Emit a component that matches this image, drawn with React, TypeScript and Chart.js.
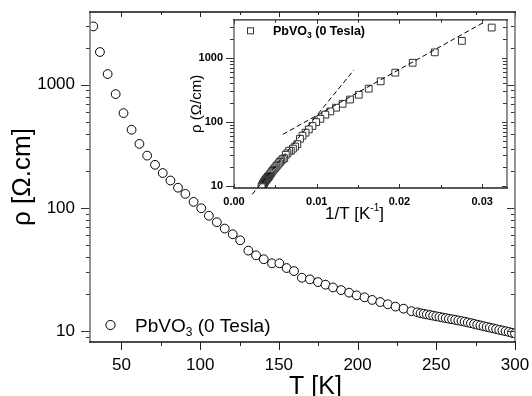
import React, { useEffect, useRef } from 'react';
import { Chart, registerables } from 'chart.js';
Chart.register(...registerables);

const FONT = '"Liberation Sans", Arial, Helvetica, sans-serif';

// ---- main panel data: resistivity (Ohm.cm) vs temperature (K)
const temperatureK = [
  32.1, 36.3, 41.2, 46.3, 51.3, 56.4, 61.4, 66.3, 71.3, 76.2,
  81.1, 85.9, 90.6, 95.8, 100.7, 105.5, 110.6, 115.6, 120.7, 125.4,
  130.6, 135.5, 140.4, 145.6, 150.3, 154.9, 159.6, 164.6, 169.7, 174.8,
  179.6, 184.4, 189.5, 194.6, 199.4, 204.4, 209.3, 214.4, 219.2, 224.1,
  229.2, 234.2, 238, 240, 242, 244, 246, 248, 250, 252,
  254, 256, 258, 260, 262, 264, 266, 268, 270, 272,
  274, 276, 278, 280, 282, 284, 286, 288, 290, 292,
  294, 296, 298, 300,
];
const resistivityOhmCm = [
  2980, 1845, 1222, 840, 589, 431, 331, 266, 224, 192,
  167, 146, 130, 112, 99.4, 86.4, 76.5, 68.0, 61.1, 54.6,
  45.0, 41.2, 38.3, 35.5, 35.5, 32.5, 30.7, 27.1, 26.3, 25.0,
  23.8, 22.6, 21.5, 20.5, 19.5, 18.8, 17.9, 17.2, 16.5, 15.8,
  15.2, 14.5, 14.2, 13.96, 13.8, 13.65, 13.49, 13.34, 13.18, 13.03,
  12.88, 12.74, 12.59, 12.47, 12.33, 12.19, 12.05, 11.91, 11.75, 11.59,
  11.43, 11.27, 11.12, 10.96, 10.81, 10.67, 10.52, 10.38, 10.23, 10.11,
  9.98, 9.84, 9.7, 9.57,
];

// ---- inset: linear fits drawn as dashed lines (1/T, rho)
const fitHighTInvT = [0.0022, 0.0145];
const fitHighTRho = [7.4, 650];
const fitLowTInvT = [0.0059, 0.03];
const fitLowTRho = [64, 3480];

// ---- tick values
const mainXMajor = [50, 100, 150, 200, 250, 300];
const mainXMinor = [75, 125, 175, 225, 275];
const mainYMajor = [10, 100, 1000];
const mainYMinor = [9, 20, 30, 40, 50, 60, 70, 80, 90, 200, 300, 400, 500, 600, 700, 800, 900, 2000, 3000];
const insetXMajor = [0, 0.01, 0.02, 0.03];
const insetXMinor = [0.005, 0.015, 0.025];
const insetXLabels = ['0.00', '0.01', '0.02', '0.03'];
const insetYMajor = [10, 100, 1000];
const insetYMinor = [20, 30, 40, 50, 60, 70, 80, 90, 200, 300, 400, 500, 600, 700, 800, 900, 2000, 3000];

type Part = { t: string; size: number; dy?: number; bold?: boolean };

function drawRich(ctx: CanvasRenderingContext2D, parts: Part[], x: number, y: number, align: 'left' | 'center', rot = 0) {
  ctx.save();
  ctx.translate(x, y);
  ctx.rotate(rot);
  ctx.fillStyle = '#000';
  ctx.textBaseline = 'alphabetic';
  ctx.textAlign = 'left';
  let w = 0;
  for (const p of parts) {
    ctx.font = `${p.bold ? 'bold ' : ''}${p.size}px ${FONT}`;
    w += ctx.measureText(p.t).width;
  }
  let cx = align === 'center' ? -w / 2 : 0;
  for (const p of parts) {
    ctx.font = `${p.bold ? 'bold ' : ''}${p.size}px ${FONT}`;
    ctx.fillText(p.t, cx, p.dy || 0);
    cx += ctx.measureText(p.t).width;
  }
  ctx.restore();
}

type Side = { color: string; tickColor: string; lw: number; major: number[]; minor: number[]; majorLen: number; minorLen: number; out: boolean };

function drawFrame(chart: any, sides: { left: Side; right: Side; top: Side; bottom: Side }) {
  const { ctx, chartArea: a, scales } = chart;
  const xs = scales.x;
  const ys = scales.y;
  ctx.save();
  const seg = (x0: number, y0: number, x1: number, y1: number) => {
    ctx.beginPath();
    ctx.moveTo(x0, y0);
    ctx.lineTo(x1, y1);
    ctx.stroke();
  };
  (['left', 'right', 'top', 'bottom'] as const).forEach((name) => {
    const s = sides[name];
    ctx.strokeStyle = s.tickColor;
    ctx.lineWidth = 1;
    const one = (v: number, len: number) => {
      if (name === 'left' || name === 'right') {
        const p = Math.round(ys.getPixelForValue(v)) + 0.5;
        const x0 = name === 'left' ? a.left : a.right;
        const dir = (name === 'left' ? -1 : 1) * (s.out ? 1 : -1);
        seg(x0, p, x0 + dir * len, p);
      } else {
        const p = Math.round(xs.getPixelForValue(v)) + 0.5;
        const y0 = name === 'top' ? a.top : a.bottom;
        const dir = (name === 'top' ? -1 : 1) * (s.out ? 1 : -1);
        seg(p, y0, p, y0 + dir * len);
      }
    };
    s.major.forEach((v) => one(v, s.majorLen));
    s.minor.forEach((v) => one(v, s.minorLen));
  });
  (['left', 'right', 'top', 'bottom'] as const).forEach((name) => {
    const s = sides[name];
    ctx.strokeStyle = s.color;
    ctx.lineWidth = s.lw;
    if (name === 'left') seg(a.left, a.top, a.left, a.bottom);
    if (name === 'right') seg(a.right, a.top, a.right, a.bottom);
    if (name === 'top') seg(a.left - 1, a.top, a.right + 1, a.top);
    if (name === 'bottom') seg(a.left - 1, a.bottom, a.right + 1, a.bottom);
  });
  ctx.restore();
}

const fixX = (h: number) => (s: any) => {
  s.height = h;
  s.paddingLeft = 0;
  s.paddingRight = 0;
  s.paddingTop = 0;
  s.paddingBottom = 0;
};
const fixY = (w: number) => (s: any) => {
  s.width = w;
  s.paddingLeft = 0;
  s.paddingRight = 0;
  s.paddingTop = 0;
  s.paddingBottom = 0;
};

export default function App() {
  const mainRef = useRef<HTMLCanvasElement>(null);
  const insetRef = useRef<HTMLCanvasElement>(null);

  useEffect(() => {
    document.body.style.margin = '0';
    const mainPoints = temperatureK.map((t, i) => ({ x: t, y: resistivityOhmCm[i] }));
    const insetPoints = temperatureK.map((t, i) => ({ x: 1 / t, y: resistivityOhmCm[i] }));

    const mainDecor = {
      id: 'mainDecor',
      afterDraw(chart: any) {
        drawFrame(chart, {
          left: { color: '#7a7a7a', tickColor: '#333', lw: 1.6, major: mainYMajor, minor: mainYMinor, majorLen: 9, minorLen: 4, out: true },
          right: { color: '#7a7a7a', tickColor: '#333', lw: 1.6, major: mainYMajor, minor: mainYMinor, majorLen: 8, minorLen: 4, out: false },
          top: { color: '#111', tickColor: '#222', lw: 1.6, major: mainXMajor, minor: mainXMinor, majorLen: 5, minorLen: 3, out: false },
          bottom: { color: '#111', tickColor: '#222', lw: 1.6, major: mainXMajor, minor: mainXMinor, majorLen: 8, minorLen: 4, out: true },
        });
        const a = chart.chartArea;
        const ctx = chart.ctx as CanvasRenderingContext2D;
        drawRich(ctx, [{ t: 'ρ [Ω.cm]', size: 26 }], a.left - 60, (a.top + a.bottom) / 2, 'center', -Math.PI / 2);
        drawRich(ctx, [{ t: 'T [K]', size: 25 }], (a.left + a.right) / 2 + 13, a.bottom + 52, 'center');
        // legend
        ctx.save();
        ctx.beginPath();
        ctx.arc(a.left + 20.5, a.bottom - 17, 4.6, 0, Math.PI * 2);
        ctx.fillStyle = '#fff';
        ctx.fill();
        ctx.strokeStyle = '#000';
        ctx.lineWidth = 1;
        ctx.stroke();
        ctx.restore();
        drawRich(ctx, [
          { t: 'PbVO', size: 19 },
          { t: '3', size: 12, dy: 4 },
          { t: ' (0 Tesla)', size: 19 },
        ], a.left + 45, a.bottom - 10, 'left');
      },
    };

    const main = new Chart(mainRef.current!, {
      type: 'scatter',
      data: {
        datasets: [
          {
            data: mainPoints,
            pointStyle: 'circle',
            pointRadius: 4.4,
            pointBorderWidth: 1,
            borderColor: '#000',
            backgroundColor: '#fff',
            clip: 0,
          } as any,
        ],
      },
      options: {
        animation: false,
        responsive: false,
        devicePixelRatio: 1,
        layout: { padding: { top: 12, right: 17, left: 0, bottom: 0 } },
        plugins: { legend: { display: false }, tooltip: { enabled: false } },
        scales: {
          x: {
            type: 'linear',
            min: 30,
            max: 300,
            afterBuildTicks: (s: any) => { s.ticks = mainXMajor.map((v) => ({ value: v })); },
            afterFit: fixX(54),
            ticks: { color: '#000', font: { family: FONT, size: 17 }, padding: 13, maxRotation: 0, autoSkip: false, callback: (v: any) => String(v) },
            grid: { display: false, drawTicks: false },
            border: { display: false },
          },
          y: {
            type: 'logarithmic',
            min: 8.15,
            max: 3900,
            afterBuildTicks: (s: any) => { s.ticks = mainYMajor.map((v) => ({ value: v })); },
            afterFit: fixY(90),
            ticks: { color: '#000', font: { family: FONT, size: 17 }, padding: 15, autoSkip: false, callback: (v: any) => String(v) },
            grid: { display: false, drawTicks: false },
            border: { display: false },
          },
        },
      },
      plugins: [mainDecor],
    } as any);

    const insetDecor = {
      id: 'insetDecor',
      beforeDraw(chart: any) {
        const a = chart.chartArea;
        const ctx = chart.ctx as CanvasRenderingContext2D;
        ctx.save();
        ctx.fillStyle = '#fff';
        ctx.fillRect(a.left, a.top, a.right - a.left, a.bottom - a.top);
        ctx.restore();
      },
      afterDraw(chart: any) {
        drawFrame(chart, {
          left: { color: '#555', tickColor: '#333', lw: 1.3, major: insetYMajor, minor: insetYMinor, majorLen: 8, minorLen: 4, out: true },
          right: { color: '#555', tickColor: '#333', lw: 1.3, major: insetYMajor, minor: insetYMinor, majorLen: 5, minorLen: 4, out: false },
          top: { color: '#222', tickColor: '#333', lw: 1.3, major: insetXMajor, minor: insetXMinor, majorLen: 4, minorLen: 3, out: false },
          bottom: { color: '#222', tickColor: '#333', lw: 1.3, major: insetXMajor, minor: insetXMinor, majorLen: 4, minorLen: 3, out: false },
        });
        const a = chart.chartArea;
        const ctx = chart.ctx as CanvasRenderingContext2D;
        drawRich(ctx, [{ t: 'ρ (Ω/cm)', size: 15 }], a.left - 33, (a.top + a.bottom) / 2, 'center', -Math.PI / 2);
        drawRich(ctx, [
          { t: '1/T [K', size: 17 },
          { t: '-1', size: 10, dy: -8 },
          { t: ']', size: 17 },
        ], (a.left + a.right) / 2 - 16, a.bottom + 31, 'center');
        // legend
        ctx.save();
        ctx.fillStyle = '#fff';
        ctx.strokeStyle = '#333';
        ctx.lineWidth = 1;
        ctx.fillRect(a.left + 13, a.top + 7.5, 7, 7);
        ctx.strokeRect(a.left + 13.5, a.top + 8, 6, 6);
        ctx.restore();
        drawRich(ctx, [
          { t: 'PbVO', size: 12.5, bold: true },
          { t: '3', size: 8.5, dy: 3, bold: true },
          { t: ' (0 Tesla)', size: 12.5, bold: true },
        ], a.left + 39, a.top + 15.5, 'left');
      },
    };

    const inset = new Chart(insetRef.current!, {
      type: 'scatter',
      data: {
        datasets: [
          {
            data: fitHighTInvT.map((x, i) => ({ x, y: fitHighTRho[i] })),
            showLine: true,
            borderColor: '#000',
            borderWidth: 1,
            borderDash: [5, 3],
            pointRadius: 0,
            clip: false,
            order: 0,
          },
          {
            data: fitLowTInvT.map((x, i) => ({ x, y: fitLowTRho[i] })),
            showLine: true,
            borderColor: '#000',
            borderWidth: 1,
            borderDash: [5, 3],
            pointRadius: 0,
            clip: false,
            order: 0,
          },
          {
            data: insetPoints,
            pointStyle: 'rect',
            pointRadius: 4.8,
            pointBorderWidth: 1,
            borderColor: '#333',
            backgroundColor: '#fff',
            clip: 0,
            order: 1,
          },
        ] as any,
      },
      options: {
        animation: false,
        responsive: false,
        devicePixelRatio: 1,
        layout: { padding: { top: 4, right: 7, left: 0, bottom: 0 } },
        plugins: { legend: { display: false }, tooltip: { enabled: false } },
        scales: {
          x: {
            type: 'linear',
            min: 0,
            max: 0.033,
            afterBuildTicks: (s: any) => { s.ticks = insetXMajor.map((v) => ({ value: v })); },
            afterFit: fixX(38),
            ticks: {
              color: '#000', font: { family: FONT, size: 11, weight: 'bold' }, padding: 7, maxRotation: 0, autoSkip: false,
              callback: (v: any) => insetXLabels[insetXMajor.indexOf(v)] ?? String(v),
            },
            grid: { display: false, drawTicks: false },
            border: { display: false },
          },
          y: {
            type: 'logarithmic',
            min: 9.3,
            max: 3940,
            afterBuildTicks: (s: any) => { s.ticks = insetYMajor.map((v) => ({ value: v })); },
            afterFit: fixY(52),
            ticks: { color: '#000', font: { family: FONT, size: 11, weight: 'bold' }, padding: 11, autoSkip: false, callback: (v: any) => String(v) },
            grid: { display: false, drawTicks: false },
            border: { display: false },
          },
        },
      },
      plugins: [insetDecor],
    } as any);

    return () => {
      main.destroy();
      inset.destroy();
    };
  }, []);

  return (
    <div style={{ position: 'absolute', left: 0, top: 0, width: 532, height: 396, background: '#fff' }}>
      <canvas ref={mainRef} width={532} height={396} style={{ position: 'absolute', left: 0, top: 0, width: 532, height: 396 }} />
      <canvas ref={insetRef} width={332} height={212} style={{ position: 'absolute', left: 182, top: 14, width: 332, height: 212 }} />
    </div>
  );
}
